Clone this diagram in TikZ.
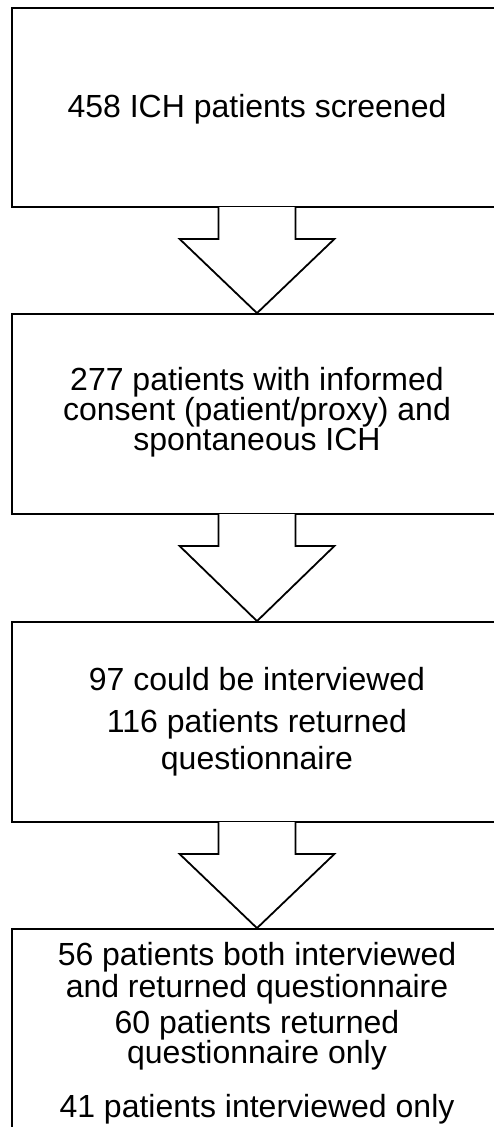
\documentclass[tikz,border=0pt]{standalone}
\usepackage{fontspec}
\setmainfont{Liberation Sans}
\usetikzlibrary{calc}
\begin{document}
\begin{tikzpicture}[x=1pt,y=-1pt,
  box/.style={draw, line width=1.8pt, minimum width=490pt, inner sep=0pt},
  txt/.style={anchor=base, inner sep=0pt, font=\fontsize{32}{32}\selectfont},
  blockarrow/.style={draw, fill=white, line width=1.8pt}]
\useasboundingbox (0,0) rectangle (494,1127);
% boxes
\node[box, minimum height=199pt] (b1) at (257,107.5) {};
\node[box, minimum height=200pt] (b2) at (257,414) {};
\node[box, minimum height=200pt] (b3) at (257,722) {};
\node[box, minimum height=211pt] (b4) at (257,1034.5) {};
% block arrows
\foreach \s/\t in {b1/b2, b2/b3, b3/b4}{
  \path[blockarrow] ($(\s.south)+(-38.5,-0.9)$) -- ($(\s.south)+(-38.5,31)$)
     -- ($(\s.south)+(-77.5,31)$) -- (\t.north) -- ($(\s.south)+(77.5,31)$)
     -- ($(\s.south)+(38.5,31)$) -- ($(\s.south)+(38.5,-0.9)$);
}
% texts
\node[txt] (t1) at (257,117.7) {458 ICH patients screened};
\node[txt] (t2a) at (257,390) {277 patients with informed};
\node[txt] (t2b) at (257,420.5) {consent (patient/proxy) and};
\node[txt] (t2c) at (257,450.5) {spontaneous ICH};
\node[txt] (t3a) at (257,690) {97 could be interviewed};
\node[txt] (t3b) at (257,732) {116 patients returned};
\node[txt] (t3c) at (257,769) {questionnaire};
\node[txt] (t4a) at (257,965) {56 patients both interviewed};
\node[txt] (t4b) at (257,997) {and returned questionnaire};
\node[txt] (t4c) at (257,1033) {60 patients returned};
\node[txt] (t4d) at (257,1063) {questionnaire only};
\node[txt] (t4e) at (257,1117) {41 patients interviewed only};
\end{tikzpicture}
\end{document}
